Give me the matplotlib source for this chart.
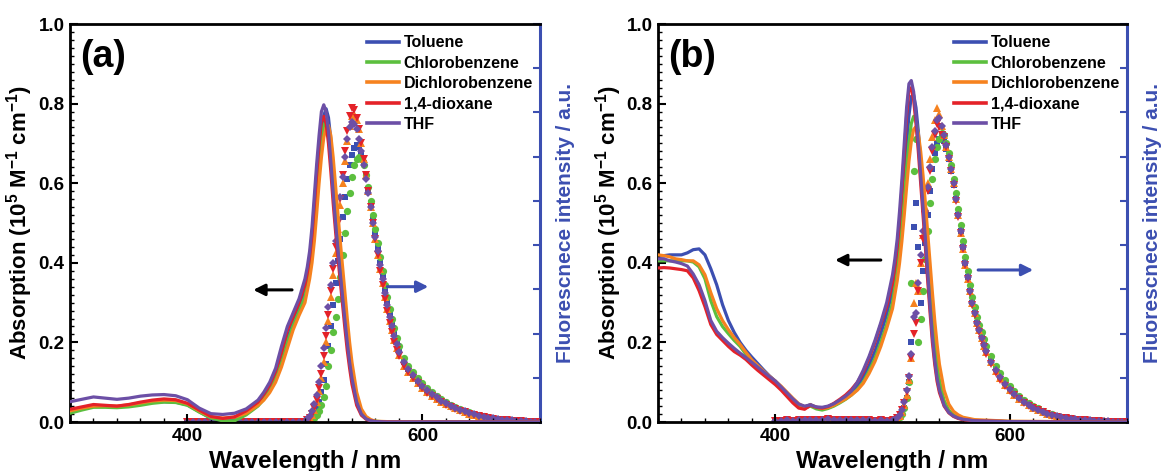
import matplotlib
matplotlib.use('Agg')
import matplotlib.pyplot as plt
from matplotlib.ticker import MultipleLocator, FixedLocator, NullFormatter

plt.rcParams['font.family'] = ['Liberation Sans', 'DejaVu Sans']
plt.rcParams['font.weight'] = 'bold'
plt.rcParams['mathtext.fontset'] = 'custom'
plt.rcParams['mathtext.rm'] = 'Liberation Sans:bold'
plt.rcParams['mathtext.bf'] = 'Liberation Sans:bold'
plt.rcParams['mathtext.default'] = 'bf'

# solvents / styles
solvents = ['Toluene', 'Chlorobenzene', 'Dichlorobenzene', '1,4-dioxane', 'THF']
colors = ['#3c4fb1', '#5cbf3e', '#f6821f', '#e42229', '#6c4fa6']
markers = ['s', 'o', '^', 'v', 'D']
fl_blue = '#3c4fb1'

# wavelength grids (nm)
abs_wl_a = list(range(300, 461, 10)) + list(range(465, 501, 5)) + list(range(502, 541, 2)) + [544, 548, 552, 556, 560, 570, 600, 650, 700]
abs_wl_b = list(range(300, 501, 5)) + list(range(502, 541, 2)) + [544, 548, 552, 556, 560, 570, 600, 650, 700]
fl_wl = list(range(400, 501, 5)) + list(range(502, 581, 2)) + list(range(584, 701, 4))

## panel (a) absorption
abs_a_toluene = [0.025, 0.033, 0.040, 0.040, 0.038, 0.041, 0.045, 0.049, 0.051, 0.050, 0.043, 0.026, 0.009, 0.003, 0.004, 0.020, 0.045,
                 0.060, 0.083, 0.113, 0.155, 0.210, 0.250, 0.285, 0.325,
                 0.355, 0.390, 0.435, 0.500, 0.575, 0.650, 0.720, 0.770, 0.787, 0.765, 0.710, 0.635, 0.555, 0.480, 0.415, 0.350, 0.285, 0.220, 0.165, 0.120,
                 0.055, 0.022, 0.009, 0.004, 0.001, 0.0, 0.0, 0.0, 0.0]
abs_a_chloro = [0.022, 0.030, 0.037, 0.037, 0.036, 0.038, 0.042, 0.047, 0.050, 0.049, 0.042, 0.025, 0.010, 0.003, 0.003, 0.018, 0.040,
                0.057, 0.078, 0.108, 0.148, 0.200, 0.243, 0.278, 0.315,
                0.345, 0.380, 0.425, 0.485, 0.560, 0.635, 0.700, 0.745, 0.758, 0.740, 0.690, 0.620, 0.545, 0.475, 0.410, 0.345, 0.280, 0.220, 0.165, 0.120,
                0.055, 0.023, 0.010, 0.004, 0.002, 0.0, 0.0, 0.0, 0.0]
abs_a_dichloro = [0.028, 0.035, 0.040, 0.041, 0.040, 0.043, 0.048, 0.053, 0.055, 0.054, 0.046, 0.028, 0.013, 0.010, 0.012, 0.022, 0.042,
                  0.055, 0.074, 0.100, 0.138, 0.185, 0.232, 0.268, 0.300,
                  0.330, 0.360, 0.400, 0.455, 0.525, 0.600, 0.665, 0.715, 0.740, 0.745, 0.720, 0.665, 0.595, 0.525, 0.455, 0.390, 0.325, 0.260, 0.200, 0.150,
                  0.075, 0.033, 0.014, 0.006, 0.002, 0.001, 0.0, 0.0, 0.0]
abs_a_dioxane = [0.032, 0.038, 0.044, 0.042, 0.040, 0.044, 0.050, 0.055, 0.058, 0.056, 0.047, 0.030, 0.014, 0.009, 0.013, 0.028, 0.050,
                 0.070, 0.093, 0.127, 0.175, 0.230, 0.265, 0.300, 0.345,
                 0.375, 0.415, 0.470, 0.545, 0.625, 0.695, 0.755, 0.768, 0.750, 0.700, 0.630, 0.550, 0.480, 0.415, 0.355, 0.295, 0.235, 0.180, 0.135, 0.095,
                 0.042, 0.017, 0.007, 0.003, 0.001, 0.0, 0.0, 0.0, 0.0]
abs_a_thf = [0.051, 0.057, 0.063, 0.060, 0.057, 0.060, 0.065, 0.068, 0.069, 0.066, 0.056, 0.035, 0.021, 0.019, 0.022, 0.033, 0.055,
             0.075, 0.100, 0.135, 0.190, 0.240, 0.275, 0.310, 0.360,
             0.390, 0.430, 0.490, 0.570, 0.650, 0.720, 0.780, 0.797, 0.780, 0.730, 0.655, 0.575, 0.500, 0.435, 0.375, 0.315, 0.255, 0.200, 0.150, 0.110,
             0.050, 0.020, 0.008, 0.003, 0.001, 0.0, 0.0, 0.0, 0.0]

## panel (a) fluorescence
fl_base_a = [0.0, 0.0, 0.0, 0.0, 0.0, 0.0, 0.0, 0.0, 0.0, 0.0, 0.0, 0.0, 0.0, 0.0, 0.0, 0.0, 0.0, 0.0, 0.0, 0.0, 0.0]
fl_a_toluene = fl_base_a + [
    0.003, 0.006, 0.012, 0.020, 0.033, 0.050, 0.075, 0.105, 0.145, 0.190, 0.240, 0.295, 0.350, 0.405, 0.460, 0.515, 0.565, 0.610, 0.645, 0.670,
    0.688, 0.695, 0.690, 0.675, 0.650, 0.620, 0.585, 0.550, 0.510, 0.475, 0.440, 0.400, 0.365, 0.330, 0.300, 0.270, 0.245, 0.220, 0.200, 0.180,
    0.152, 0.133, 0.117, 0.103, 0.090, 0.079, 0.069, 0.060, 0.053, 0.046, 0.040, 0.035, 0.030, 0.026, 0.022, 0.018, 0.015, 0.013, 0.011, 0.009,
    0.007, 0.006, 0.005, 0.004, 0.003, 0.002, 0.0015, 0.001, 0.0005, 0.0]
fl_a_chloro = fl_base_a + [
    0.001, 0.003, 0.006, 0.011, 0.018, 0.028, 0.042, 0.062, 0.090, 0.140, 0.180, 0.225, 0.265, 0.310, 0.365, 0.420, 0.475, 0.530, 0.575, 0.615,
    0.645, 0.660, 0.665, 0.660, 0.645, 0.620, 0.590, 0.555, 0.520, 0.485, 0.450, 0.415, 0.380, 0.345, 0.315, 0.285, 0.260, 0.235, 0.210, 0.190,
    0.162, 0.142, 0.125, 0.110, 0.097, 0.085, 0.075, 0.066, 0.058, 0.050, 0.044, 0.038, 0.033, 0.028, 0.024, 0.020, 0.017, 0.014, 0.012, 0.010,
    0.008, 0.006, 0.005, 0.004, 0.003, 0.002, 0.0015, 0.001, 0.0005, 0.0]
fl_a_dichloro = fl_base_a + [
    0.005, 0.010, 0.018, 0.030, 0.050, 0.078, 0.110, 0.150, 0.200, 0.255, 0.315, 0.370, 0.425, 0.485, 0.545, 0.600, 0.655, 0.705, 0.745, 0.770,
    0.775, 0.760, 0.735, 0.700, 0.660, 0.620, 0.580, 0.540, 0.500, 0.460, 0.420, 0.385, 0.350, 0.315, 0.285, 0.255, 0.230, 0.205, 0.185, 0.168,
    0.142, 0.126, 0.111, 0.098, 0.086, 0.075, 0.066, 0.058, 0.051, 0.045, 0.039, 0.034, 0.029, 0.025, 0.021, 0.018, 0.015, 0.012, 0.010, 0.008,
    0.006, 0.005, 0.004, 0.003, 0.002, 0.0015, 0.001, 0.001, 0.0005, 0.0]
fl_a_dioxane = fl_base_a + [
    0.005, 0.010, 0.020, 0.035, 0.055, 0.085, 0.120, 0.165, 0.215, 0.270, 0.330, 0.385, 0.440, 0.500, 0.560, 0.620, 0.680, 0.730, 0.770, 0.790,
    0.785, 0.765, 0.735, 0.700, 0.660, 0.620, 0.580, 0.540, 0.500, 0.460, 0.420, 0.380, 0.345, 0.310, 0.280, 0.250, 0.225, 0.200, 0.180, 0.165,
    0.140, 0.125, 0.110, 0.097, 0.085, 0.074, 0.065, 0.057, 0.050, 0.044, 0.038, 0.033, 0.028, 0.024, 0.020, 0.017, 0.014, 0.012, 0.010, 0.008,
    0.006, 0.005, 0.004, 0.003, 0.002, 0.0015, 0.001, 0.001, 0.0005, 0.0]
fl_a_thf = fl_base_a + [
    0.008, 0.015, 0.027, 0.045, 0.068, 0.100, 0.140, 0.185, 0.235, 0.290, 0.345, 0.400, 0.455, 0.510, 0.565, 0.615, 0.665, 0.710, 0.740, 0.755,
    0.750, 0.735, 0.710, 0.680, 0.645, 0.610, 0.575, 0.540, 0.500, 0.465, 0.430, 0.395, 0.360, 0.325, 0.295, 0.265, 0.240, 0.215, 0.195, 0.175,
    0.150, 0.132, 0.117, 0.103, 0.091, 0.080, 0.070, 0.062, 0.054, 0.047, 0.041, 0.036, 0.031, 0.027, 0.023, 0.019, 0.016, 0.013, 0.011, 0.009,
    0.007, 0.006, 0.005, 0.004, 0.003, 0.002, 0.0015, 0.001, 0.001, 0.0005]

## panel (b) absorption
abs_b_toluene = [0.415, 0.418, 0.420, 0.420, 0.420, 0.425, 0.433, 0.435, 0.420,
                 0.385, 0.345, 0.295, 0.255, 0.225, 0.200, 0.180, 0.163, 0.147, 0.131, 0.116, 0.103,
                 0.088, 0.072, 0.057, 0.043, 0.037, 0.044, 0.036, 0.034, 0.038, 0.045,
                 0.054, 0.064, 0.076, 0.092, 0.113, 0.142, 0.178, 0.222, 0.270, 0.330,
                 0.370, 0.415, 0.470, 0.540, 0.620, 0.700, 0.770, 0.818, 0.822, 0.790, 0.730, 0.655, 0.575, 0.490, 0.405, 0.320, 0.240, 0.175, 0.125, 0.090,
                 0.046, 0.026, 0.016, 0.010, 0.007, 0.003, 0.001, 0.0, 0.0]
abs_b_chloro = [0.405, 0.405, 0.405, 0.405, 0.405, 0.405, 0.402, 0.390, 0.360,
                0.305, 0.265, 0.240, 0.222, 0.205, 0.190, 0.170, 0.152, 0.139, 0.125, 0.112, 0.100,
                0.087, 0.072, 0.056, 0.042, 0.035, 0.040, 0.033, 0.030, 0.034, 0.040,
                0.048, 0.057, 0.068, 0.082, 0.100, 0.128, 0.160, 0.200, 0.245, 0.300,
                0.340, 0.380, 0.430, 0.490, 0.560, 0.635, 0.700, 0.750, 0.768, 0.760, 0.720, 0.660, 0.590, 0.510, 0.430, 0.350, 0.270, 0.200, 0.145, 0.105,
                0.054, 0.030, 0.018, 0.012, 0.008, 0.004, 0.001, 0.0, 0.0]
abs_b_dichloro = [0.420, 0.418, 0.415, 0.410, 0.408, 0.405, 0.405, 0.395, 0.370,
                  0.325, 0.285, 0.255, 0.232, 0.212, 0.195, 0.175, 0.156, 0.142, 0.128, 0.115, 0.103,
                  0.090, 0.075, 0.060, 0.046, 0.038, 0.043, 0.037, 0.034, 0.036, 0.042,
                  0.050, 0.058, 0.068, 0.080, 0.097, 0.122, 0.152, 0.190, 0.235, 0.285,
                  0.320, 0.355, 0.400, 0.455, 0.520, 0.590, 0.655, 0.705, 0.735, 0.742, 0.725, 0.680, 0.620, 0.550, 0.475, 0.400, 0.325, 0.255, 0.195, 0.145,
                  0.080, 0.045, 0.027, 0.018, 0.012, 0.006, 0.002, 0.001, 0.0]
abs_b_dioxane = [0.387, 0.388, 0.387, 0.385, 0.383, 0.380, 0.362, 0.330, 0.290,
                 0.245, 0.220, 0.205, 0.190, 0.177, 0.168, 0.157, 0.143, 0.130, 0.118, 0.106, 0.094,
                 0.080, 0.064, 0.048, 0.035, 0.032, 0.042, 0.037, 0.035, 0.039, 0.047,
                 0.057, 0.068, 0.082, 0.100, 0.125, 0.160, 0.200, 0.245, 0.290, 0.350,
                 0.390, 0.440, 0.505, 0.585, 0.675, 0.770, 0.835, 0.840, 0.810, 0.750, 0.680, 0.600, 0.520, 0.440, 0.355, 0.275, 0.200, 0.145, 0.102, 0.074,
                 0.040, 0.023, 0.014, 0.009, 0.006, 0.003, 0.001, 0.0, 0.0]
abs_b_thf = [0.410, 0.410, 0.405, 0.402, 0.398, 0.392, 0.372, 0.345, 0.305,
             0.255, 0.228, 0.212, 0.198, 0.185, 0.173, 0.162, 0.150, 0.138, 0.126, 0.114, 0.103,
             0.088, 0.073, 0.058, 0.045, 0.040, 0.043, 0.038, 0.037, 0.040, 0.046,
             0.055, 0.065, 0.078, 0.100, 0.130, 0.165, 0.205, 0.250, 0.300, 0.370,
             0.410, 0.460, 0.530, 0.610, 0.700, 0.790, 0.850, 0.858, 0.830, 0.770, 0.700, 0.620, 0.540, 0.460, 0.375, 0.290, 0.215, 0.155, 0.110, 0.080,
             0.042, 0.024, 0.015, 0.010, 0.007, 0.003, 0.001, 0.0, 0.0]

## panel (b) fluorescence
fl_base_b = [0.003, 0.002, 0.004, 0.003, 0.005, 0.004, 0.006, 0.004, 0.005, 0.007, 0.005, 0.004, 0.006, 0.005, 0.004, 0.005, 0.004, 0.003, 0.004, 0.003, 0.004]
fl_b_toluene = fl_base_b + [
    0.004, 0.007, 0.012, 0.020, 0.035, 0.060, 0.100, 0.200, 0.490, 0.550, 0.440, 0.300, 0.380, 0.450, 0.520, 0.580, 0.635, 0.675, 0.700, 0.712,
    0.715, 0.705, 0.685, 0.660, 0.630, 0.595, 0.560, 0.520, 0.480, 0.440, 0.400, 0.365, 0.330, 0.300, 0.275, 0.250, 0.230, 0.210, 0.195, 0.180,
    0.155, 0.133, 0.114, 0.098, 0.084, 0.072, 0.061, 0.052, 0.044, 0.037, 0.031, 0.026, 0.022, 0.018, 0.015, 0.012, 0.010, 0.008, 0.007, 0.005,
    0.004, 0.003, 0.003, 0.002, 0.002, 0.001, 0.001, 0.001, 0.0, 0.0]
fl_b_chloro = fl_base_b + [
    0.005, 0.008, 0.012, 0.020, 0.035, 0.060, 0.100, 0.350, 0.630, 0.710, 0.200, 0.260, 0.330, 0.410, 0.480, 0.550, 0.610, 0.660, 0.690, 0.710,
    0.725, 0.720, 0.700, 0.675, 0.645, 0.610, 0.575, 0.535, 0.495, 0.455, 0.415, 0.380, 0.345, 0.315, 0.290, 0.265, 0.245, 0.225, 0.208, 0.192,
    0.165, 0.142, 0.122, 0.105, 0.090, 0.077, 0.066, 0.056, 0.047, 0.040, 0.034, 0.028, 0.023, 0.019, 0.016, 0.013, 0.011, 0.009, 0.007, 0.006,
    0.005, 0.004, 0.003, 0.002, 0.002, 0.001, 0.001, 0.001, 0.0, 0.0]
fl_b_dichloro = fl_base_b + [
    0.005, 0.010, 0.016, 0.026, 0.042, 0.068, 0.105, 0.160, 0.300, 0.350, 0.330, 0.400, 0.470, 0.540, 0.600, 0.660, 0.715, 0.760, 0.790, 0.775,
    0.745, 0.720, 0.690, 0.665, 0.635, 0.600, 0.560, 0.520, 0.475, 0.435, 0.395, 0.360, 0.330, 0.300, 0.275, 0.250, 0.230, 0.210, 0.192, 0.177,
    0.150, 0.128, 0.110, 0.094, 0.080, 0.069, 0.059, 0.050, 0.042, 0.036, 0.030, 0.025, 0.021, 0.017, 0.014, 0.012, 0.010, 0.008, 0.006, 0.005,
    0.004, 0.003, 0.003, 0.002, 0.002, 0.001, 0.001, 0.0, 0.0, 0.0]
fl_b_dioxane = fl_base_b + [
    0.006, 0.011, 0.018, 0.030, 0.048, 0.075, 0.110, 0.160, 0.220, 0.250, 0.330, 0.400, 0.460, 0.520, 0.580, 0.630, 0.680, 0.720, 0.750, 0.740,
    0.720, 0.715, 0.690, 0.660, 0.630, 0.595, 0.555, 0.515, 0.475, 0.435, 0.395, 0.360, 0.325, 0.295, 0.270, 0.245, 0.225, 0.205, 0.188, 0.172,
    0.145, 0.124, 0.106, 0.091, 0.078, 0.067, 0.057, 0.049, 0.041, 0.035, 0.029, 0.024, 0.020, 0.016, 0.013, 0.011, 0.009, 0.007, 0.006, 0.005,
    0.004, 0.003, 0.002, 0.002, 0.001, 0.001, 0.001, 0.0, 0.0, 0.0]
fl_b_thf = fl_base_b + [
    0.006, 0.011, 0.018, 0.030, 0.050, 0.080, 0.115, 0.170, 0.265, 0.275, 0.350, 0.420, 0.480, 0.530, 0.590, 0.640, 0.690, 0.730, 0.760, 0.765,
    0.745, 0.720, 0.695, 0.665, 0.635, 0.600, 0.560, 0.520, 0.480, 0.440, 0.400, 0.365, 0.330, 0.300, 0.275, 0.250, 0.230, 0.210, 0.193, 0.178,
    0.152, 0.130, 0.112, 0.096, 0.082, 0.070, 0.060, 0.051, 0.043, 0.036, 0.031, 0.026, 0.021, 0.018, 0.015, 0.012, 0.010, 0.008, 0.007, 0.006,
    0.005, 0.004, 0.003, 0.003, 0.002, 0.002, 0.001, 0.001, 0.001, 0.001]

abs_a = [abs_a_toluene, abs_a_chloro, abs_a_dichloro, abs_a_dioxane, abs_a_thf]
fl_a = [fl_a_toluene, fl_a_chloro, fl_a_dichloro, fl_a_dioxane, fl_a_thf]
abs_b = [abs_b_toluene, abs_b_chloro, abs_b_dichloro, abs_b_dioxane, abs_b_thf]
fl_b = [fl_b_toluene, fl_b_chloro, fl_b_dichloro, fl_b_dioxane, fl_b_thf]


def draw_panel(ax, abs_wl, abs_list, fl_list, tag, black_arrow, blue_arrow):
	tw = ax.twinx()
	for i in range(len(solvents)):
		ax.plot(abs_wl, abs_list[i], color=colors[i], lw=2.3, label=solvents[i], zorder=2 + i)
	for i in range(len(solvents)):
		ms = 4.4 if markers[i] in ('D', 's') else 5.2
		tw.plot(fl_wl, fl_list[i], ls='none', marker=markers[i], ms=ms, mew=0,
		        color=colors[i], zorder=2 + i)

	ax.set_xlim(300, 700)
	ax.set_ylim(0, 1.0)
	tw.set_ylim(0, 1.0)
	ax.xaxis.set_major_locator(MultipleLocator(200))
	ax.xaxis.set_minor_locator(MultipleLocator(20))
	ax.yaxis.set_major_locator(MultipleLocator(0.2))
	ax.yaxis.set_minor_locator(MultipleLocator(0.02))
	ax.yaxis.set_major_formatter(plt.FuncFormatter(lambda v, pos: '%.1f' % v))
	ax.tick_params(which='both', direction='in', top=False, right=False)
	ax.tick_params(which='major', length=6, width=1.5, labelsize=13.5, pad=4)
	ax.tick_params(which='minor', length=3, width=1.0)
	tw.yaxis.set_major_locator(FixedLocator([k / 9 for k in range(10)]))
	tw.yaxis.set_major_formatter(NullFormatter())
	tw.tick_params(axis='y', direction='in', length=5, width=1.5, color=fl_blue)

	for s in ['left', 'top', 'bottom']:
		ax.spines[s].set_linewidth(2.0)
		tw.spines[s].set_visible(False)
	ax.spines['right'].set_visible(False)
	tw.spines['right'].set_color(fl_blue)
	tw.spines['right'].set_linewidth(2.2)

	ax.set_xlabel('Wavelength / nm', fontsize=17.5, fontweight='bold', labelpad=4)
	ax.set_ylabel(r'Absorption (10$^{5}$ M$^{-1}$ cm$^{-1}$)', fontsize=16, fontweight='bold', labelpad=2)
	tw.set_ylabel('Fluorescnece intensity / a.u.', fontsize=15, fontweight='bold', color=fl_blue, labelpad=8)

	ax.text(0.022, 0.962, tag, transform=ax.transAxes, fontsize=27, fontweight='bold', va='top', ha='left')

	ax.annotate('', xy=(black_arrow[0], black_arrow[2]), xytext=(black_arrow[1], black_arrow[2]),
	            arrowprops=dict(arrowstyle='-|>', color='black', lw=2.2, mutation_scale=17, shrinkA=0, shrinkB=0))
	ax.annotate('', xy=(blue_arrow[1], blue_arrow[2]), xytext=(blue_arrow[0], blue_arrow[2]),
	            arrowprops=dict(arrowstyle='-|>', color=fl_blue, lw=2.2, mutation_scale=17, shrinkA=0, shrinkB=0))

	lgd = ax.legend(loc='upper right', bbox_to_anchor=(0.985, 0.972), frameon=False,
	                prop={'weight': 'bold', 'size': 11.5}, handlelength=2.0, handletextpad=0.3,
	                labelspacing=0.34, borderaxespad=0, borderpad=0)
	for line in lgd.get_lines():
		line.set_linewidth(2.6)
	ax.set_zorder(tw.get_zorder() + 1)
	ax.patch.set_visible(False)
	return tw


fig = plt.figure(figsize=(11.62, 4.71), dpi=100)
ax1 = fig.add_axes([0.0602, 0.104, 0.4045, 0.845])
ax2 = fig.add_axes([0.5663, 0.104, 0.4036, 0.845])

draw_panel(ax1, abs_wl_a, abs_a, fl_a, '(a)', (456, 489, 0.332), (570, 605, 0.34))
draw_panel(ax2, abs_wl_b, abs_b, fl_b, '(b)', (451, 490, 0.407), (573, 620, 0.382))

fig.savefig('out.png', dpi=100)
